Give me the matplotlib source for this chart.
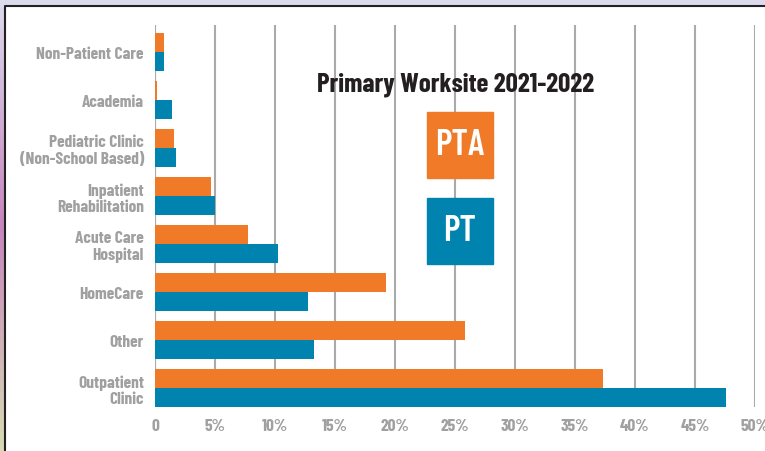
import numpy as np
import matplotlib
matplotlib.use("Agg")
import matplotlib.pyplot as plt
from matplotlib import font_manager as fm

categories = ["Outpatient\nClinic", "Other", "HomeCare", "Acute Care\nHospital",
              "Inpatient\nRehabilitation", "Pediatric Clinic\n(Non-School Based)",
              "Academia", "Non-Patient Care"]
pta = [37.3, 25.8, 19.25, 7.75, 4.7, 1.6, 0.2, 0.75]
pt = [47.6, 13.25, 12.75, 10.25, 5.0, 1.75, 1.4, 0.75]
xticks = [0, 5, 10, 15, 20, 25, 30, 35, 40, 45, 50]
xlabels = ["0"] + [f"{v}%" for v in xticks[1:]]

orange = "#f07a28"
blue = "#0083ae"
grey = "#a0a0a0"

# a condensed face close to DIN Condensed, if one is there
names = {f.name for f in fm.fontManager.ttflist}
font = "Liberation Sans"
for cand in ["Barlow Condensed", "Barlow Semi Condensed", "Roboto Condensed",
             "Saira Semi Condensed", "Open Sans Condensed", "Liberation Sans Narrow", "Roboto"]:
    if cand in names:
        font = cand
        break
plt.rcParams['font.family'] = [font, "DejaVu Sans"]

fig = plt.figure(figsize=(7.65, 4.52), dpi=100)

# background gradient round the white panel
bg = fig.add_axes([0, 0, 1, 1])
top_col = np.array([0.86, 0.86, 0.93])
mid_col = np.array([0.78, 0.52, 0.74])
bot_col = np.array([0.84, 0.86, 0.70])
rows = []
for t in np.linspace(0, 1, 100):
    if t < 0.5:
        c = top_col + (mid_col - top_col) * (t / 0.5)
    else:
        c = mid_col + (bot_col - mid_col) * ((t - 0.5) / 0.5)
    rows.append(c)
img = np.array(rows)[:, None, :].repeat(2, axis=1)
bg.imshow(img, aspect='auto', extent=[0, 1, 0, 1])
bg.add_patch(plt.Rectangle((0, 0.984), 1, 0.02, color=top_col, transform=bg.transAxes))
bg.add_patch(plt.Rectangle((6 / 765, 0), 1, 1 - 8 / 452, color="white", transform=bg.transAxes))
bg.plot([5 / 765, 5 / 765, 1], [0, 1 - 7 / 452, 1 - 7 / 452], color="#222222", lw=1.5)
bg.set_xlim(0, 1)
bg.set_ylim(0, 1)
bg.axis('off')

ax = fig.add_axes([155 / 765, 44 / 452, 600 / 765, 382 / 452])
ax.patch.set_alpha(0)
y = np.arange(len(categories))
h = 0.4
ax.barh(y + h / 2, pta, height=h, color=orange, zorder=3)
ax.barh(y - h / 2, pt, height=h, color=blue, zorder=3)

ax.set_xlim(0, 50)
ax.set_ylim(-0.4, 7.5625)
ax.set_xticks(xticks)
ax.set_xticklabels(xlabels, color=grey, fontsize=12.5, fontweight='bold')
ax.set_yticks(y)
ax.set_yticklabels(categories, color=grey, fontsize=12.5, fontweight='bold', linespacing=1.1)
ax.tick_params(length=0, pad=8)
ax.xaxis.grid(True, color="#aaaaaa", lw=1.5, zorder=0)
ax.axvline(0, color="#aaaaaa", lw=1.5, zorder=1)
for s in ax.spines.values():
    s.set_visible(False)

fig.text(456 / 765, 1 - 85 / 452, "Primary Worksite 2021-2022", ha='center', va='center',
         fontsize=19.5, fontweight='bold', color="#231f20")

for (y0, y1), lab, col in [((113, 179), "PTA", orange), ((199, 265), "PT", blue)]:
    fig.patches.append(plt.Rectangle((427 / 765, 1 - y1 / 452), 66 / 765, (y1 - y0) / 452,
                                     color=col, transform=fig.transFigure, figure=fig, zorder=5))
    fig.text(460 / 765, 1 - (y0 + y1) / 2 / 452, lab, ha='center', va='center',
             fontsize=26, fontweight='semibold', color="white", zorder=6)

fig.savefig("out.png", dpi=100)
